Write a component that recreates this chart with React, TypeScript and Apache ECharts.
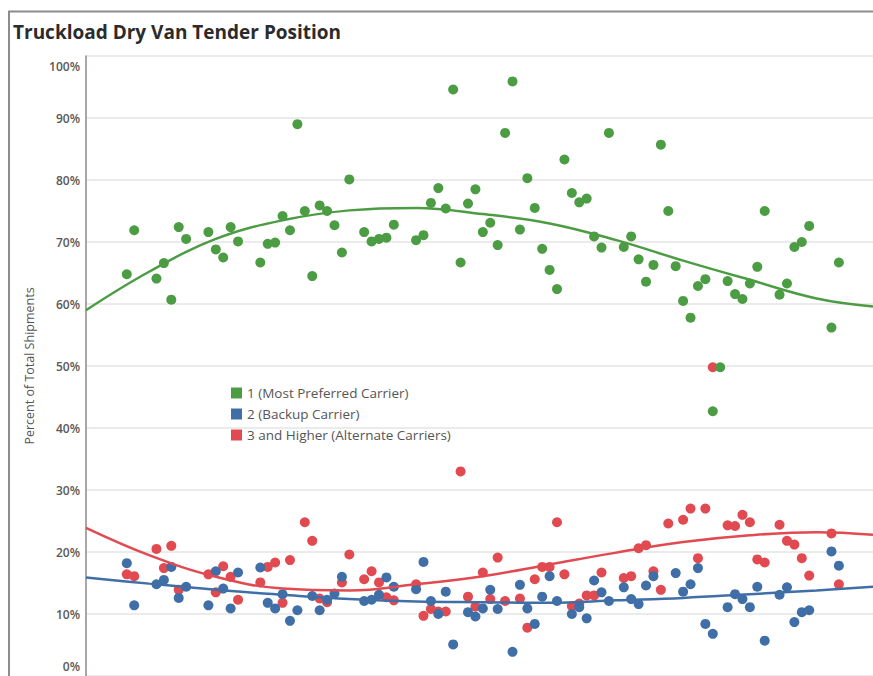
import React, { useEffect, useRef } from "react";
import * as echarts from "echarts";

const titleText = "Truckload Dry Van Tender Position";
const yAxisTitle = "Percent of Total Shipments";
const seriesNames = ["1 (Most Preferred Carrier)", "2 (Backup Carrier)", "3 and Higher (Alternate Carriers)"];
const colors = ["#4c9c44", "#3f6fa6", "#e04a50"];

const days = Array.from({ length: 97 }, (_, i) => i);

const preferred: (number | null)[] = [
  64.8, 71.9, null, null, 64.1, 66.6, 60.7, 72.4, 70.5, null,
  null, 71.6, 68.8, 67.5, 72.4, 70.1, null, null, 66.7, 69.7,
  69.9, 74.2, 71.9, 89.0, 75.0, 64.5, 75.9, 75.0, 72.7, 68.3,
  80.1, null, 71.6, 70.1, 70.5, 70.7, 72.8, null, null, 70.3,
  71.1, 76.3, 78.7, 75.4, 94.6, 66.7, 76.2, 78.5, 71.6, 73.1,
  69.5, 87.6, 95.9, 72.0, 80.3, 75.5, 68.9, 65.5, 62.4, 83.3,
  77.9, 76.4, 77.0, 70.9, 69.1, 87.6, null, 69.2, 70.9, 67.2,
  63.6, 66.3, 85.7, 75.0, 66.1, 60.5, 57.8, 62.9, 64.0, 42.7,
  49.8, 63.7, 61.6, 60.8, 63.3, 66.0, 75.0, null, 61.5, 63.3,
  69.2, 70.0, 72.6, null, null, 56.2, 66.7,
];

const backup: (number | null)[] = [
  18.2, 11.4, null, null, 14.8, 15.5, 17.6, 12.6, 14.4, null,
  null, 11.4, 16.9, 14.1, 10.9, 16.7, null, null, 17.5, 11.8,
  10.9, 13.2, 8.9, 10.6, null, 12.9, 10.6, 12.3, 13.3, 16.0,
  null, null, 12.1, 12.3, 13.1, 15.9, 14.4, null, null, 14.0,
  18.4, 12.1, 10.0, 13.6, 5.1, null, 10.3, 9.6, 10.9, 13.9,
  10.8, null, 3.9, 14.7, 10.9, 8.4, 12.8, 16.1, 12.1, null,
  10.0, 11.1, 9.3, 15.4, 13.5, 12.1, null, 14.3, 12.4, 11.6,
  14.6, 16.1, null, null, 16.6, 13.6, 14.8, 17.4, 8.4, 6.8,
  null, 11.1, 13.2, 12.4, 11.1, 14.4, 5.7, null, 13.1, 14.3,
  8.7, 10.3, 10.6, null, null, 20.1, 17.8,
];

const alternate: (number | null)[] = [
  16.4, 16.1, null, null, 20.5, 17.4, 21.0, 13.9, null, null,
  null, 16.4, 13.5, 17.7, 16.0, 12.3, null, null, 15.1, 17.6,
  18.3, 11.8, 18.7, null, 24.8, 21.8, 12.5, 11.9, null, 15.1,
  19.6, null, 15.6, 16.9, 15.1, 12.7, 12.2, null, null, 14.8,
  9.7, 10.8, 10.4, 10.4, null, 33.0, 12.8, 11.2, 16.7, 12.4,
  19.1, 12.1, null, 12.5, 7.8, 15.6, 17.6, 17.6, 24.8, 16.4,
  11.3, 11.7, 13.0, 13.0, 16.7, null, null, 15.8, 16.1, 20.6,
  21.1, 16.9, 13.9, 24.6, null, 25.2, 27.0, 19.0, 27.0, 49.8,
  null, 24.3, 24.2, 26.0, 24.8, 18.8, 18.3, null, 24.4, 21.8,
  21.2, 19.0, 16.2, null, null, 23.0, 14.8,
];

const trendX = [-5.5, 3, 12, 21, 30, 39, 48, 57, 66, 75, 84, 93, 100.6];
const preferredTrend = [59.0, 65.2, 70.5, 73.5, 75.1, 75.5, 74.5, 73.0, 70.3, 67.0, 63.9, 60.9, 59.6];
const backupTrend = [15.9, 14.9, 13.9, 13.1, 12.4, 12.0, 11.9, 11.8, 12.2, 12.6, 13.2, 13.8, 14.4];
const alternateTrend = [23.9, 19.5, 16.0, 14.1, 13.8, 14.8, 16.1, 18.0, 19.9, 21.6, 22.7, 23.2, 22.8];

const yTicks = { min: 0, max: 100, interval: 10 };

const FONT = "'Open Sans', 'Noto Sans', sans-serif";

function pairs(vals: (number | null)[]) {
  const out: [number, number][] = [];
  vals.forEach((v, i) => {
    if (v !== null) out.push([days[i], v]);
  });
  return out;
}

function trend(vals: number[]) {
  return trendX.map((x, i) => [x, vals[i]]);
}

export default function App() {
  const ref = useRef<HTMLDivElement>(null);
  useEffect(() => {
    if (!ref.current) return;
    const chart = echarts.init(ref.current, undefined, { renderer: "svg" });
    const scatterData = [preferred, backup, alternate];
    const trendData = [preferredTrend, backupTrend, alternateTrend];
    const drawOrder = [2, 1, 0];
    const series: any[] = [];
    drawOrder.forEach((k) => {
      series.push({
        name: seriesNames[k],
        type: "scatter",
        data: pairs(scatterData[k]),
        symbolSize: 10,
        itemStyle: { color: colors[k], opacity: 1 },
        z: 3 + (2 - k),
      });
    });
    [0, 1, 2].forEach((k) => {
      series.push({
        name: "trend" + k,
        type: "line",
        data: trend(trendData[k]),
        smooth: 0.4,
        symbol: "none",
        lineStyle: { color: colors[k], width: 2.5 },
        z: 6,
        silent: true,
      });
    });
    const labelStyle = { fontFamily: FONT, fontSize: 12, fontWeight: 600, color: "#585858" };
    chart.setOption({
      animation: false,
      backgroundColor: "#ffffff",
      title: {
        text: titleText,
        left: 13,
        top: 22,
        padding: 0,
        textStyle: { fontFamily: FONT, fontSize: 19, fontWeight: "bold", color: "#2b2b2b" },
      },
      legend: {
        orient: "vertical",
        left: 226,
        top: 381,
        icon: "rect",
        itemWidth: 11,
        itemHeight: 11,
        itemGap: 7,
        data: seriesNames,
        textStyle: { fontFamily: FONT, fontSize: 13.5, color: "#555", lineHeight: 11.5 },
        selectedMode: false,
      },
      grid: { left: 86, top: 56, right: 0, bottom: -4, containLabel: false },
      xAxis: {
        type: "value",
        min: -5.5,
        max: 100.6,
        show: false,
      },
      yAxis: {
        type: "value",
        min: yTicks.min,
        max: yTicks.max,
        interval: yTicks.interval,
        name: yAxisTitle,
        nameLocation: "middle",
        nameRotate: 90,
        nameGap: 50,
        nameTextStyle: { fontFamily: FONT, fontSize: 12.5, color: "#555" },
        axisLine: { show: true, onZero: false, lineStyle: { color: "#8a8a8a", width: 1.5 } },
        axisTick: { show: false },
        axisLabel: {
          margin: 6,
          ...labelStyle,
          formatter: (v: number) => (v === 100 ? "{t|100%}" : v === 0 ? "{b|0%}" : v + "%"),
          rich: {
            t: { ...labelStyle, padding: [20, 0, 0, 0] },
            b: { ...labelStyle, padding: [0, 0, 20, 0] },
          },
        },
        splitLine: { show: true, lineStyle: { color: "#e4e4e4", width: 1.5 } },
      },
      graphic: [
        {
          type: "rect",
          silent: true,
          shape: { x: 9, y: 11.5, width: 900, height: 700 },
          style: { fill: "none", stroke: "#8c8c8c", lineWidth: 2 },
          z: 100,
        },
      ],
      series,
    });
    return () => chart.dispose();
  }, []);
  return (
    <div
      ref={ref}
      style={{ position: "absolute", left: 0, top: 0, width: 873, height: 676, overflow: "hidden" }}
    />
  );
}
